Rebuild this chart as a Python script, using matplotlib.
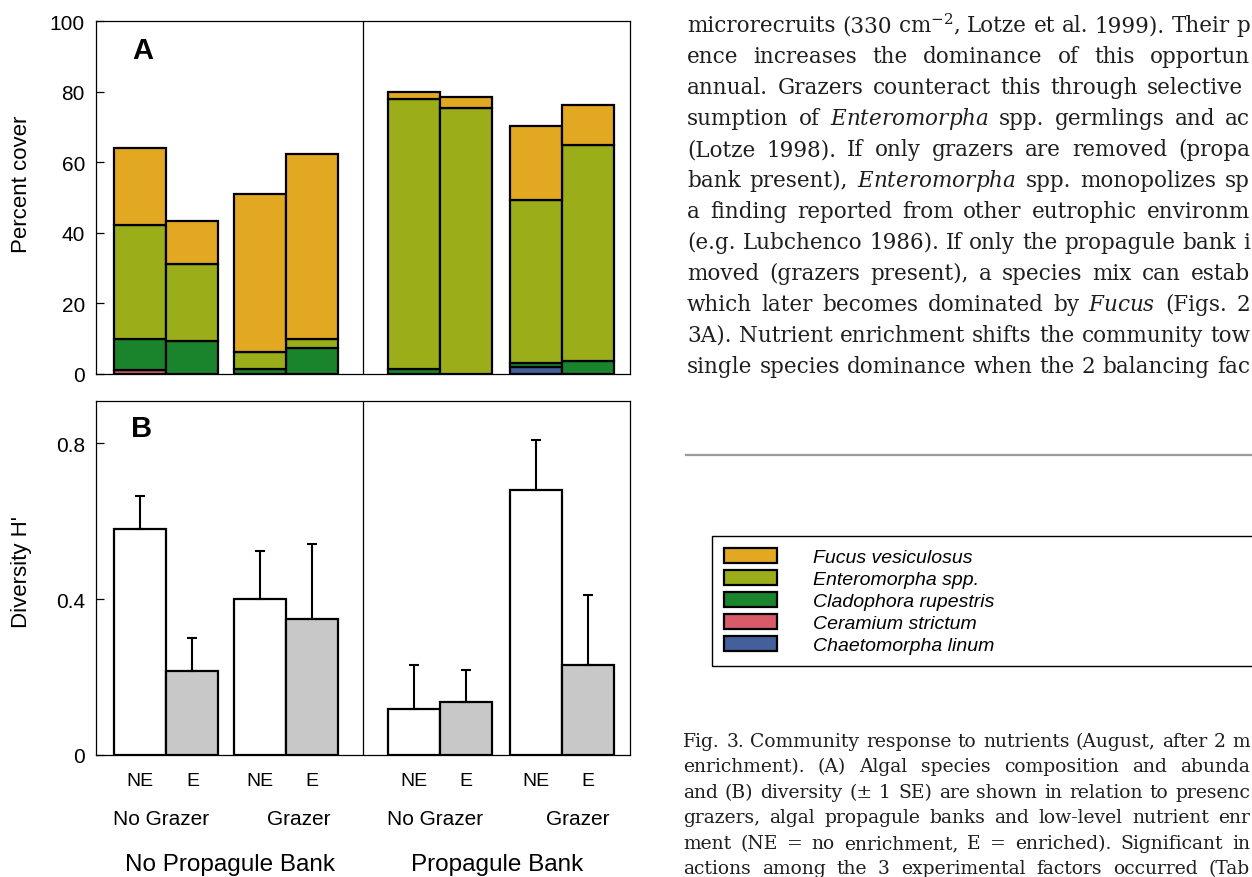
import matplotlib
matplotlib.use("Agg")
import matplotlib.pyplot as plt
from matplotlib.lines import Line2D
import matplotlib.transforms as mtransforms
import numpy as np

plt.rcParams['font.family'] = ['Liberation Sans', 'DejaVu Sans']
plt.rcParams['mathtext.fontset'] = 'custom'
plt.rcParams['mathtext.rm'] = 'DejaVu Serif'
plt.rcParams['mathtext.it'] = 'DejaVu Serif:italic'

# treatments, left to right
nutrient = ['NE', 'E', 'NE', 'E', 'NE', 'E', 'NE', 'E']
grazer_groups = ['No Grazer', 'Grazer', 'No Grazer', 'Grazer']
bank_groups = ['No Propagule Bank', 'Propagule Bank']

# (A) percent cover per species (stacked bottom -> top)
ceramium = [1.0, 0, 0, 0, 0, 0, 0, 0]
chaetomorpha = [0, 0, 0, 0, 0, 0, 1.9, 0]
cladophora = [8.9, 9.4, 1.5, 7.3, 1.4, 0, 1.2, 3.6]
enteromorpha = [32.2, 21.9, 4.7, 2.6, 76.5, 75.4, 46.3, 61.4]
fucus = [21.9, 12.0, 44.8, 52.5, 2.1, 3.1, 20.8, 11.3]

# (B) diversity H' and SE
diversity = [0.579, 0.216, 0.400, 0.350, 0.118, 0.137, 0.679, 0.232]
diversity_se = [0.086, 0.083, 0.122, 0.191, 0.114, 0.082, 0.130, 0.179]

species = [
    ('Ceramium strictum', ceramium, '#d95a68'),
    ('Chaetomorpha linum', chaetomorpha, '#43609c'),
    ('Cladophora rupestris', cladophora, '#1a842c'),
    ('Enteromorpha spp.', enteromorpha, '#9bae1a'),
    ('Fucus vesiculosus', fucus, '#e2a822'),
]

# page text around the figure (visible part only, the page is cut at the right)
body = [
    r"microrecruits (330 cm$^{-2}$, Lotze et al. 1999). Their p",
    "ence increases the dominance of this opportun",
    "annual. Grazers counteract this through selective",
    r"sumption of $\mathit{Enteromorpha}$ spp. germlings and ac",
    "(Lotze 1998). If only grazers are removed (propa",
    r"bank present), $\mathit{Enteromorpha}$ spp. monopolizes sp",
    "a finding reported from other eutrophic environm",
    "(e.g. Lubchenco 1986). If only the propagule bank i",
    "moved (grazers present), a species mix can estab",
    r"which later becomes dominated by $\mathit{Fucus}$ (Figs. 2",
    "3A). Nutrient enrichment shifts the community tow",
    "single species dominance when the 2 balancing fac",
]
caption = [
    "Fig. 3. Community response to nutrients (August, after 2 m",
    "enrichment). (A) Algal species composition and abunda",
    "and (B) diversity (± 1 SE) are shown in relation to presenc",
    "grazers, algal propagule banks and low-level nutrient enr",
    "ment (NE = no enrichment, E = enriched). Significant in",
    "actions among the 3 experimental factors occurred (Tab",
]

x = np.array([0.85, 1.85, 3.15, 4.15, 6.1, 7.1, 8.45, 9.45])
divider = 5.13
W, H = 1252, 878

fig = plt.figure(figsize=(W / 100, H / 100), dpi=100)
ax_a = fig.add_axes([96 / W, 1 - 375 / H, 534 / W, 353 / H])
ax_b = fig.add_axes([96 / W, 1 - 756 / H, 534 / W, 354 / H])

# ---- panel A: stacked cover
bottom = np.zeros(len(x))
handles = {}
for name, vals, col in species:
    vals = np.array(vals, dtype=float)
    bars = ax_a.bar(x, vals, width=1.0, bottom=bottom, color=col,
                    edgecolor='black', linewidth=1.6, label=name)
    handles[name] = bars
    bottom += vals

ax_a.set_xlim(0, 10.25)
ax_a.set_ylim(0, 100)
ax_a.set_yticks([0, 20, 40, 60, 80, 100], ['0', '20', '40', '60', '80', '100'])
ax_a.set_xticks([])
ax_a.set_ylabel('Percent cover', fontsize=16)
ax_a.yaxis.set_label_coords(-0.12, 0.54)
ax_a.text(0.088, 0.918, 'A', transform=ax_a.transAxes, fontsize=21,
          fontweight='bold', ha='center', va='center')

# ---- panel B: diversity
fills = ['white' if n == 'NE' else '#c8c8c8' for n in nutrient]
ax_b.bar(x, diversity, width=1.0, color=fills, edgecolor='black', linewidth=1.6)
ax_b.errorbar(x, diversity, yerr=[np.zeros(len(x)), diversity_se], fmt='none',
              ecolor='black', elinewidth=1.5, capsize=3.5, capthick=1.5)
ax_b.set_xlim(0, 10.25)
ax_b.set_ylim(0, 0.908)
ax_b.set_yticks([0, 0.4, 0.8], ['0', '0.4', '0.8'])
ax_b.set_xticks(x, nutrient, fontsize=14)
ax_b.tick_params(axis='x', length=0, pad=12)
ax_b.set_ylabel("Diversity H'", fontsize=16)
ax_b.yaxis.set_label_coords(-0.12, 0.52)
ax_b.text(0.086, 0.924, 'B', transform=ax_b.transAxes, fontsize=21,
          fontweight='bold', ha='center', va='center')

trans = mtransforms.blended_transform_factory(ax_b.transData, ax_b.transAxes)
shift = [-0.1, 0.25, -0.1, 0.3]
for i, g in enumerate(grazer_groups):
    cx = (x[2 * i] + x[2 * i + 1]) / 2 + shift[i]
    ax_b.text(cx, -0.18, g, transform=trans, fontsize=15, ha='center', va='center')
for i, g in enumerate(bank_groups):
    cx = divider / 2 if i == 0 else (divider + 10.25) / 2
    ax_b.text(cx, -0.308, g, transform=trans, fontsize=17.5, ha='center', va='center')

for ax in (ax_a, ax_b):
    ax.axvline(divider, color='black', linewidth=0.9)
    ax.tick_params(axis='y', direction='in', length=6, width=0.9, labelsize=15, pad=8)
    for s in ax.spines.values():
        s.set_linewidth(0.9)

# ---- legend
order = ['Fucus vesiculosus', 'Enteromorpha spp.', 'Cladophora rupestris',
         'Ceramium strictum', 'Chaetomorpha linum']
leg = fig.legend([handles[n] for n in order], order,
                 loc='upper left', bbox_to_anchor=(712 / W, 1 - 668 / H, 700 / W, 131 / H),
                 mode='expand', borderaxespad=0, borderpad=0.6, labelspacing=0.2,
                 handlelength=2.75, handleheight=0.8, handletextpad=1.85,
                 fancybox=False, framealpha=1, edgecolor='black',
                 prop={'family': 'Liberation Sans', 'style': 'italic', 'size': 14})
leg.get_frame().set_linewidth(1.0)


def justified(lines, x0, x1s, y0, dy, size):
    # place words so each line spans x0..x1 like the justified page text
    r = fig.canvas.get_renderer()
    for i, line in enumerate(lines):
        words = line.split(' ')
        y = 1 - (y0 + dy * i) / H
        arts = [fig.text(0, y, w, fontsize=size, family='DejaVu Serif',
                         va='baseline', color='#1e1e1e') for w in words]
        widths = [a.get_window_extent(r).width for a in arts]
        gap = (x1s[i] - x0 - sum(widths)) / max(len(words) - 1, 1)
        pos = x0
        for a, wd in zip(arts, widths):
            a.set_x(pos / W)
            pos += wd + gap


body_end = [1250] * len(body)
body_end[2] = 1243
justified(body, 687, body_end, 32, 31, 15.5)

fig.add_artist(Line2D([686 / W, 1.0], [1 - 456 / H] * 2, color='#9a9a9a', linewidth=1.6))

justified(caption, 683, [1250] * len(caption), 747, 25.5, 13.5)

fig.savefig('out.png', dpi=100)
